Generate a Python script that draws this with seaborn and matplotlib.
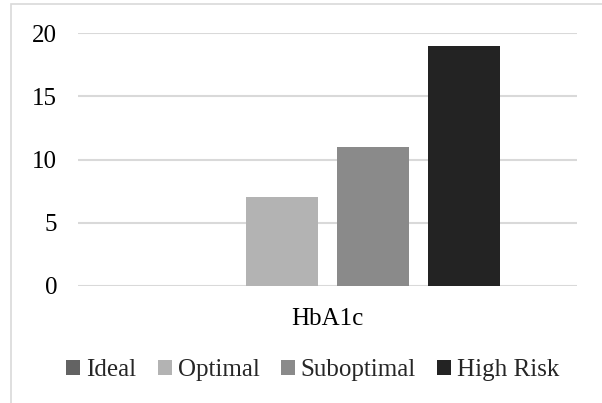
import matplotlib
matplotlib.use('Agg')
import matplotlib.pyplot as plt
import seaborn as sns
import pandas as pd
from matplotlib.patches import Patch, Rectangle

# values
marker = 'HbA1c'
categories = ['Ideal', 'Optimal', 'Suboptimal', 'High Risk']
counts = [0, 7, 11, 19]
colors = ['#636363', '#b3b3b3', '#8a8a8a', '#232323']

df = pd.DataFrame({'Marker': [marker] * len(categories),
                   'Category': categories,
                   'Count': counts})

sns.set_style('white')
plt.rcParams['font.family'] = ['Liberation Serif', 'DejaVu Serif']

fig = plt.figure(figsize=(6.02, 4.03), dpi=100)
ax = fig.add_axes([78 / 602, 1 - 286 / 403, 499 / 602, 253 / 403])

palette = dict(zip(categories, colors))
sns.barplot(data=df, x='Marker', y='Count', hue='Category', hue_order=categories,
            palette=palette, width=0.73, gap=0.21, saturation=1, ax=ax,
            legend=False, linewidth=0, err_kws={'linewidth': 0})

ax.set_ylim(0, 20)
ax.set_yticks([0, 5, 10, 15, 20])
ax.set_xlim(-0.5, 0.5)
ax.set_xlabel('')
ax.set_ylabel('')
ax.yaxis.grid(True, color='#d9d9d9', linewidth=1.5)
ax.set_axisbelow(True)
for s in ax.spines.values():
    s.set_visible(False)
ax.tick_params(axis='y', length=0, pad=15, labelsize=18, labelcolor='#000000')
ax.tick_params(axis='x', length=0, pad=16, labelsize=18, labelcolor='#000000')

handles = [Patch(facecolor=c, edgecolor='none', label=l) for l, c in zip(categories, colors)]
fig.legend(handles=handles, loc='center', bbox_to_anchor=(313 / 602, 1 - 370 / 403),
           ncol=4, frameon=False, fontsize=18, handlelength=0.55, handleheight=0.55,
           handletextpad=0.25, columnspacing=0.85)

# light border around the chart
fig.patches.append(Rectangle((11 / 602, -0.01), 0.99, 1 - 4 / 403 + 0.01,
                             transform=fig.transFigure, fill=False,
                             edgecolor='#d9d9d9', linewidth=1.2))

fig.savefig('out.png', dpi=100, facecolor='white')
